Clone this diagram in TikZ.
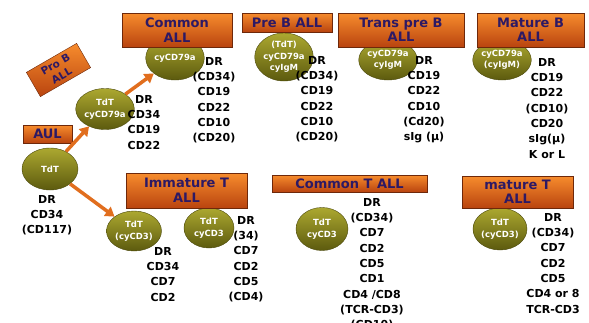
\documentclass[tikz,border=0pt]{standalone}
\usepackage{fontspec}
\setmainfont{DejaVu Sans}
\usetikzlibrary{arrows.meta,shapes.geometric}

\definecolor{stagetop}{RGB}{247,140,45}
\definecolor{stagebot}{RGB}{185,68,15}
\definecolor{stageline}{RGB}{110,40,10}
\definecolor{stagetext}{RGB}{45,25,100}
\definecolor{celltop}{RGB}{172,168,48}
\definecolor{cellbot}{RGB}{92,90,14}
\definecolor{arrowcol}{RGB}{225,110,30}

\begin{document}
\begin{tikzpicture}[x=1pt,y=-1pt,
    stagebox/.style={draw=stageline,top color=stagetop,bottom color=stagebot,
      text=stagetext,font=\fontsize{13}{14.5}\selectfont\bfseries,align=center,inner sep=0pt},
    cellbody/.style={ellipse,draw=cellbot!80!black,top color=celltop,bottom color=cellbot,
      text=white,font=\fontsize{8.5}{11.5}\selectfont\bfseries,align=center,inner sep=0pt},
    marklist/.style={anchor=north,align=center,inner sep=0pt,
      font=\fontsize{11}{15.3}\selectfont\bfseries},
    growth/.style={draw=arrowcol,line width=3.5pt,-{Triangle[length=9pt,width=11pt]}}]

      \fill[white] (0,0) rectangle (589,322);
      \clip (0,0) rectangle (589,322);

      % cells
      \node[cellbody,minimum width=56,minimum height=42] at ( 50,169) (aulE) {TdT};
      \node[cellbody,minimum width=50,minimum height=41] at (105,109) (probE) {TdT\\cyCD79a};
      \node[cellbody,minimum width=55,minimum height=44] at (175, 58) (callE) {cyCD79a};
      \node[cellbody,minimum width=50,minimum height=48] at (284, 57) (prebE) {(TdT)\\cyCD79a\\cyIgM};
      \node[cellbody,minimum width=55,minimum height=40] at (388, 60) (tpreE) {cyCD79a\\cyIgM};
      \node[cellbody,minimum width=52,minimum height=40] at (502, 60) (matbE) {cyCD79a\\(cyIgM)};
      \node[cellbody,minimum width=55,minimum height=40] at (134,231) (imt1E) {TdT\\(cyCD3)};
      \node[cellbody,minimum width=50,minimum height=40] at (209,228) (imt2E) {TdT\\cyCD3};
      \node[cellbody,minimum width=52,minimum height=43] at (322,229) (ctE) {TdT\\cyCD3};
      \node[cellbody,minimum width=54,minimum height=42] at (500,229) (mtE) {TdT\\(cyCD3)};

      % stages
      \node[stagebox,minimum width=110,minimum height=34] at (177,30) (comAll) {Common\\ALL};
      \node[stagebox,minimum width=90,minimum height=19] at (287,22.5) (preB) {Pre B ALL};
      \node[stagebox,minimum width=126,minimum height=34] at (401,30) (transB) {Trans pre B\\ALL};
      \node[stagebox,minimum width=107,minimum height=34] at (530.5,30) (matB) {Mature B\\ALL};
      \node[stagebox,minimum width=58,minimum height=28,rotate=30,
            font=\fontsize{10.5}{12.5}\selectfont\bfseries] at (58.5,70) (proB) {Pro B\\ALL};
      \node[stagebox,minimum width=49,minimum height=18] at (47.5,134) (aul) {AUL};
      \node[stagebox,minimum width=121,minimum height=35] at (186.5,190.5) (imT) {Immature T\\ALL};
      \node[stagebox,minimum width=155,minimum height=17] at (349.5,183.5) (comT) {Common T ALL};
      \node[stagebox,minimum width=111,minimum height=32] at (517.5,192) (matT) {mature T\\ALL};

      \draw[growth] (aulE)--(probE);
      \draw[growth] (probE)--(callE);
      \draw[growth] (aulE)--(imt1E);

      % markers
      \node[marklist] at ( 47,195) (aulL)  {DR\\CD34\\(CD117)};
      \node[marklist] at (144, 95) (probL) {DR\\CD34\\CD19\\CD22};
      \node[marklist] at (214, 57) (callL) {DR\\(CD34)\\CD19\\CD22\\CD10\\(CD20)};
      \node[marklist] at (317, 56) (prebL) {DR\\(CD34)\\CD19\\CD22\\CD10\\(CD20)};
      \node[marklist] at (424, 56) (tpreL) {DR\\CD19\\CD22\\CD10\\(Cd20)\\sIg (μ)};
      \node[marklist] at (547, 58) (matbL) {DR\\CD19\\CD22\\(CD10)\\CD20\\sIg(μ)\\K or L};
      \node[marklist] at (163,247) (imt1L) {DR\\CD34\\CD7\\CD2};
      \node[marklist] at (246,216) (imt2L) {DR\\(34)\\CD7\\CD2\\CD5\\(CD4)};
      \node[marklist] at (372,198) (ctL)   {DR\\(CD34)\\CD7\\CD2\\CD5\\CD1\\CD4 /CD8\\(TCR-CD3)\\(CD10)};
      \node[marklist] at (553,213) (mtL)   {DR\\(CD34)\\CD7\\CD2\\CD5\\CD4 or 8\\TCR-CD3};

    \end{tikzpicture}
\end{document}
